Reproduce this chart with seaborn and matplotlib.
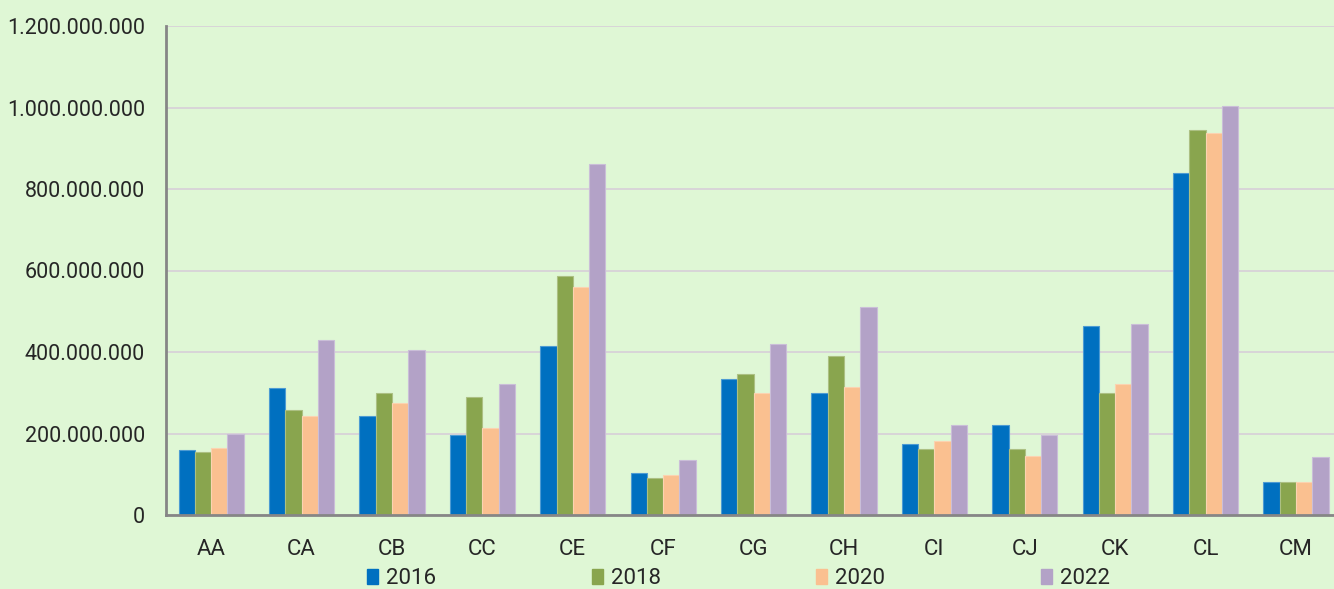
import matplotlib
matplotlib.use("Agg")
import matplotlib.pyplot as plt
import matplotlib.colors as mcolors
from matplotlib.ticker import FuncFormatter, FixedLocator
from matplotlib.patches import Patch
import seaborn as sns
import pandas as pd
import numpy as np

categories = ["AA", "CA", "CB", "CC", "CE", "CF", "CG", "CH", "CI", "CJ", "CK", "CL", "CM"]
years = ["2016", "2018", "2020", "2022"]
v2016 = [160e6, 311e6, 243e6, 196e6, 415e6, 102e6, 333e6, 299e6, 174e6, 221e6, 465e6, 840e6, 80e6]
v2018 = [155e6, 257e6, 300e6, 289e6, 587e6, 92e6, 347e6, 390e6, 163e6, 163e6, 300e6, 946e6, 80e6]
v2020 = [164e6, 243e6, 275e6, 214e6, 559e6, 99e6, 300e6, 314e6, 182e6, 146e6, 321e6, 937e6, 80e6]
v2022 = [200e6, 429e6, 404e6, 321e6, 861e6, 134e6, 419e6, 511e6, 221e6, 196e6, 469e6, 1004e6, 142e6]
colors = ["#0070C0", "#89A54E", "#FAC090", "#B3A2C7"]

rows = []
for yr, vals in zip(years, [v2016, v2018, v2020, v2022]):
    for c, v in zip(categories, vals):
        rows.append({"cat": c, "year": yr, "value": v})
df = pd.DataFrame(rows)

sns.set_style("white")
plt.rcParams["font.family"] = ["Roboto", "DejaVu Sans"]

bg = "#DFF7D5"
fig = plt.figure(figsize=(13.34, 5.89), dpi=100, facecolor=bg)
ax = fig.add_axes([166 / 1334, 74 / 589, 13 * 90.4 / 1334, 489 / 589])
ax.set_facecolor(bg)

sns.barplot(data=df, x="cat", y="value", hue="year", order=categories, hue_order=years,
            palette=colors, width=0.72, gap=0, saturation=1, ax=ax, legend=False, errorbar=None)

for cont, col in zip(ax.containers, colors):
    rgb = np.array(mcolors.to_rgb(col))
    light = rgb + (1 - rgb) * 0.3
    for b in cont:
        b.set_edgecolor(light)
        b.set_linewidth(0.8)

ax.set_xlim(-0.5, 12.5)
ax.set_ylim(0, 1.2e9)
ax.set_yticks(np.arange(0, 1.2e9 + 1, 2e8))
ax.yaxis.set_major_formatter(FuncFormatter(lambda v, p: f"{int(round(v)):,}".replace(",", ".")))
ax.yaxis.grid(True, color="#D8D2D8", linewidth=1.3)
ax.set_axisbelow(True)
ax.set_xlabel("")
ax.set_ylabel("")

for s in ["top", "right"]:
    ax.spines[s].set_visible(False)
for s in ["left", "bottom"]:
    ax.spines[s].set_color("#868686")
    ax.spines[s].set_linewidth(2)

ax.tick_params(axis="y", direction="out", length=7, width=2, color="#868686",
               labelsize=15.5, labelcolor="#262626", pad=8)
ax.tick_params(axis="x", which="major", length=0, labelsize=16, labelcolor="#262626", pad=17)
ax.xaxis.set_minor_locator(FixedLocator(np.arange(-0.5, 13, 1)))
ax.tick_params(axis="x", which="minor", direction="out", length=7, width=2, color="#868686")

handles = [Patch(facecolor=c, edgecolor=c) for c in colors]
fig.legend(handles, years, loc="center", bbox_to_anchor=(0.5536, 0.017), ncol=4,
           frameon=False, fontsize=16, handlelength=0.5, handleheight=0.65,
           handletextpad=0.35, columnspacing=7.0, labelcolor="#262626",
           borderpad=0, borderaxespad=0)

fig.savefig("out.png", dpi=100, facecolor=bg)
